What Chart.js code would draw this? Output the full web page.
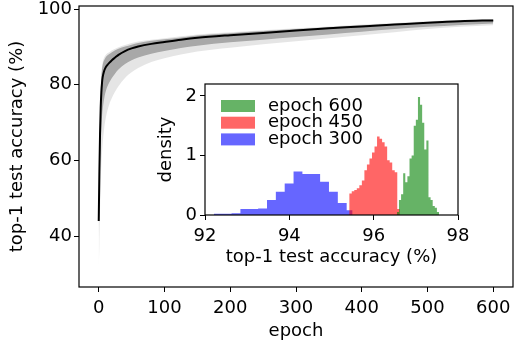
<!DOCTYPE html>
<html>
<head>
<meta charset="utf-8">
<script src="https://cdn.jsdelivr.net/npm/chart.js@4/dist/chart.umd.min.js"></script>
<style>
html, body { margin: 0; padding: 0; background: #fff; }
#wrap { position: relative; width: 516px; height: 351px; }
#main { position: absolute; left: 0; top: 0; }
#inset { position: absolute; left: 150px; top: 78px; }
</style>
</head>
<body>
<div id="wrap">
  <canvas id="main" width="516" height="351"></canvas>
  <canvas id="inset" width="320" height="200"></canvas>
</div>
<script>
// main curve: mean test accuracy over all runs, plus the spread of runs (grey)
const epochs = [0, 1, 2, 3, 4, 5, 6, 8, 10, 13, 16, 20, 25, 30, 40, 50, 60, 80, 100, 125, 150, 200, 250, 300, 350, 400, 450, 500, 550, 600];
const meanAcc = [44, 57, 67, 74, 78, 80.5, 82, 83.5, 84.4, 85.2, 85.8, 86.5, 87.2, 87.9, 88.9, 89.6, 90.1, 90.8, 91.3, 91.9, 92.4, 93.1, 93.7, 94.3, 94.9, 95.4, 95.9, 96.4, 96.8, 97.0];
const innerHigh = [47, 61, 71, 78, 82, 84, 85.3, 86.4, 87.1, 87.7, 88.1, 88.6, 89.1, 89.5, 90.1, 90.6, 91.0, 91.6, 92.0, 92.5, 93.0, 93.6, 94.2, 94.7, 95.2, 95.7, 96.1, 96.6, 96.95, 97.15];
const innerLow = [37, 49, 58, 64, 68.5, 71.5, 73.5, 76, 77.8, 79.5, 80.6, 81.8, 83, 84, 85.5, 86.5, 87.2, 88.2, 88.9, 89.7, 90.3, 91.2, 91.9, 92.6, 93.3, 94.0, 94.7, 95.3, 95.8, 96.2];
const outerHigh = [48, 62, 72, 79, 83, 84.7, 86, 87.1, 87.7, 88.3, 88.6, 89.1, 89.5, 89.9, 90.5, 91.0, 91.4, 91.9, 92.3, 92.8, 93.3, 93.9, 94.4, 94.9, 95.4, 95.9, 96.3, 96.75, 97.1, 97.3];
const outerLow = [31, 38, 47, 54, 59, 62, 64.5, 68, 70.5, 73, 74.8, 76.5, 78.2, 79.6, 81.8, 83.3, 84.4, 86, 87, 88, 88.8, 89.8, 90.7, 91.5, 92.3, 93.1, 93.9, 94.7, 95.3, 95.7];
const epochTicks = [0, 100, 200, 300, 400, 500, 600];
const accTicks = [40, 60, 80, 100];

// inset: histograms of final accuracy (bin left edges + last right edge, density)
const edges600 = [96.55, 96.60, 96.65, 96.70, 96.75, 96.80, 96.85, 96.90, 96.95, 97.00, 97.05, 97.10, 97.15, 97.20, 97.25, 97.30, 97.35, 97.40, 97.45, 97.50, 97.55];
const dens600 = [0.05, 0.25, 0.35, 0.70, 0.55, 0.65, 0.95, 1.00, 1.50, 1.60, 1.98, 1.85, 1.55, 1.10, 1.25, 0.30, 0.25, 0.15, 0.12, 0.05];
const edges450 = [95.42, 95.48, 95.54, 95.60, 95.66, 95.72, 95.78, 95.84, 95.90, 95.96, 96.02, 96.08, 96.14, 96.20, 96.26, 96.32, 96.38, 96.44, 96.50, 96.56, 96.62];
const dens450 = [0.36, 0.40, 0.42, 0.45, 0.50, 0.58, 0.75, 0.85, 0.95, 1.05, 1.15, 1.32, 1.28, 1.22, 1.15, 0.92, 0.88, 0.75, 0.72, 0.10];
const edges300 = [92.21, 92.42, 92.63, 92.84, 93.05, 93.26, 93.47, 93.68, 93.89, 94.10, 94.31, 94.52, 94.73, 94.94, 95.15, 95.36, 95.50];
const dens300 = [0.02, 0.02, 0.03, 0.10, 0.10, 0.11, 0.25, 0.39, 0.53, 0.73, 0.69, 0.69, 0.56, 0.39, 0.20, 0.08];
const histLabels = ['epoch 600', 'epoch 450', 'epoch 300'];
const histAccTicks = [92, 94, 96, 98];
const densityTicks = [0, 1, 2];

const FONT = "'DejaVu Sans', sans-serif";
const FS = 18;

function xy(xs, ys) {
  return ys.map((y, i) => ({x: xs[i], y: y}));
}

// histogram as a stepped outline: each edge holds its bin height until the next edge
function histPoints(edges, dens) {
  const pts = xy(edges, dens);
  pts.push({x: edges[edges.length - 1], y: dens[dens.length - 1]});
  return pts;
}

function fixBox(size) {
  return s => {
    if (s.isHorizontal()) s.height = size; else s.width = size;
    s.paddingLeft = s.paddingRight = s.paddingTop = s.paddingBottom = 0;
  };
}

function useTicks(values) {
  return s => { s.ticks = values.map(v => ({value: v})); };
}

function axis(min, max, ticks, box, title, tickPad, titlePad) {
  return {
    type: 'linear', min: min, max: max,
    afterBuildTicks: useTicks(ticks),
    afterFit: fixBox(box),
    grid: {drawOnChartArea: false, drawTicks: true, tickLength: 5, color: '#000', lineWidth: 1},
    border: {display: false},
    ticks: {color: '#000', font: {family: FONT, size: FS}, padding: tickPad, maxRotation: 0, autoSkip: false},
    title: {display: true, text: title, color: '#000', font: {family: FONT, size: FS}, padding: titlePad}
  };
}

// box round the plot area (all four spines), optional white background
const frame = {
  id: 'frame',
  beforeDraw(chart, args, opts) {
    if (!opts.fill) return;
    const a = chart.chartArea, ctx = chart.ctx;
    ctx.save();
    ctx.fillStyle = opts.fill;
    ctx.fillRect(a.left, a.top, a.right - a.left, a.bottom - a.top);
    ctx.restore();
  },
  afterDraw(chart) {
    const a = chart.chartArea, ctx = chart.ctx;
    ctx.save();
    ctx.strokeStyle = '#000';
    ctx.lineWidth = 1.2;
    ctx.strokeRect(a.left, a.top, a.right - a.left, a.bottom - a.top);
    ctx.restore();
  }
};

const histLegend = {
  id: 'histLegend',
  afterDraw(chart) {
    const a = chart.chartArea, ctx = chart.ctx;
    ctx.save();
    ctx.font = FS + 'px ' + FONT;
    ctx.textBaseline = 'middle';
    chart.data.datasets.forEach((ds, i) => {
      const y = a.top + 22 + i * 16.7;
      ctx.fillStyle = ds.backgroundColor;
      ctx.fillRect(a.left + 16, y - 6, 34, 12);
      ctx.fillStyle = '#000';
      ctx.fillText(ds.label, a.left + 63, y);
    });
    ctx.restore();
  }
};

const band = (data, fill, color) => ({
  data: data, fill: fill, backgroundColor: color, borderWidth: 0,
  pointRadius: 0, cubicInterpolationMode: 'monotone'
});

new Chart(document.getElementById('main'), {
  type: 'line',
  data: {
    datasets: [
      {data: xy(epochs, meanAcc), borderColor: '#000', borderWidth: 2, pointRadius: 0, fill: false, cubicInterpolationMode: 'monotone'},
      band(xy(epochs, innerLow), false, 'rgba(0,0,0,0)'),
      band(xy(epochs, innerHigh), '-1', 'rgba(0,0,0,0.27)'),
      band(xy(epochs, outerLow), false, 'rgba(0,0,0,0)'),
      band(xy(epochs, outerHigh), '-1', 'rgba(0,0,0,0.1)')
    ]
  },
  options: {
    responsive: false,
    animation: false,
    events: [],
    layout: {padding: {left: 0, right: 3, top: 6, bottom: 0}},
    plugins: {legend: {display: false}, tooltip: {enabled: false}, frame: {}},
    scales: {
      x: axis(-30, 630, epochTicks, 64, 'epoch', 6, {top: 0, bottom: 9}),
      y: axis(26.6, 100.8, accTicks, 79, 'top-1 test accuracy (%)', 2, {top: 7, bottom: 0})
    }
  },
  plugins: [frame]
});

const hist = (label, data, color) => ({
  label: label, data: data, stepped: true, fill: 'origin',
  backgroundColor: color, borderWidth: 0, pointRadius: 0
});

new Chart(document.getElementById('inset'), {
  type: 'line',
  data: {
    datasets: [
      hist(histLabels[0], histPoints(edges600, dens600), 'rgba(0,128,0,0.6)'),
      hist(histLabels[1], histPoints(edges450, dens450), 'rgba(255,0,0,0.6)'),
      hist(histLabels[2], histPoints(edges300, dens300), 'rgba(0,0,255,0.6)')
    ]
  },
  options: {
    responsive: false,
    animation: false,
    events: [],
    layout: {padding: {left: 0, right: 12, top: 6, bottom: 0}},
    plugins: {legend: {display: false}, tooltip: {enabled: false}, frame: {fill: '#fff'}},
    scales: {
      x: axis(92, 98, histAccTicks, 63, 'top-1 test accuracy (%)', 6, {top: 0, bottom: 10}),
      y: axis(0, 2.2, densityTicks, 55, 'density', 3, {top: 6, bottom: 0})
    }
  },
  plugins: [frame, histLegend]
});
</script>
</body>
</html>
